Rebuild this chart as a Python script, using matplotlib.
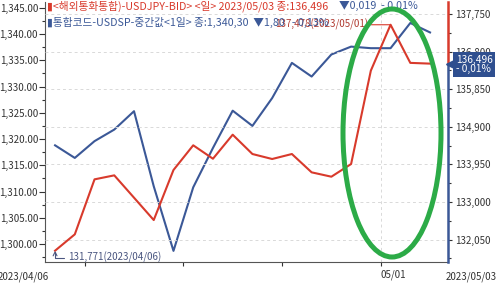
import numpy as np
import matplotlib
matplotlib.use("Agg")
import matplotlib.pyplot as plt
import matplotlib.transforms as mtransforms
from matplotlib.patches import Ellipse
from matplotlib.ticker import FuncFormatter, MultipleLocator

plt.rcParams["font.family"] = ["Noto Sans CJK KR", "DejaVu Sans"]

# trading days 2023/04/06 .. 2023/05/03
dates = ["04/06", "04/07", "04/10", "04/11", "04/12", "04/13", "04/14",
         "04/17", "04/18", "04/19", "04/20", "04/21", "04/24", "04/25",
         "04/26", "04/27", "04/28", "05/01", "05/02", "05/03"]

# 통합코드-USDSP-중간값 (left axis, won)
usdsp = [1318.8, 1316.4, 1319.6, 1321.8, 1325.3, 1311.0, 1298.7, 1310.8,
         1318.3, 1325.4, 1322.5, 1327.8, 1334.5, 1331.9, 1336.1, 1337.6,
         1337.3, 1337.3, 1342.1, 1340.3]

# USDJPY-BID (right axis)
usdjpy = [131771, 132184, 133573, 133674, 133110, 132545, 133809, 134433,
          134094, 134701, 134213, 134087, 134213, 133750, 133640, 133960,
          136318, 137478, 136515, 136496]

left_ticks = [1300, 1305, 1310, 1315, 1320, 1325, 1330, 1335, 1340, 1345]
right_ticks = [132050, 133000, 133950, 134900, 135850, 136800, 137750]

red = "#d83a2c"
blue = "#3b5897"
txt = "#333333"
grid_c = "#d9d9d9"

fig = plt.figure(figsize=(5, 2.83), dpi=100)
ax = fig.add_axes([0.09, 0.074, 0.806, 0.919])
ax2 = ax.twinx()

x = np.arange(len(dates))
ax.plot(x, usdsp, color=blue, lw=1.5, zorder=3)
ax2.plot(x, usdjpy, color=red, lw=1.5, zorder=3)

ax.set_xlim(-0.51, 19.91)
ax.set_ylim(1296.57, 1346.1)
ax2.set_ylim(131484, 138053)

# left axis
ax.set_yticks(left_ticks)
ax.yaxis.set_minor_locator(MultipleLocator(2.5))
ax.yaxis.set_major_formatter(FuncFormatter(lambda v, p: f"{v:,.2f}"))
ax.tick_params(axis="y", which="major", length=4, width=0.8, color=txt,
               labelsize=7, labelcolor=txt, pad=1)
ax.tick_params(axis="y", which="minor", length=2.5, width=0.8, color=txt)

# right axis
ax2.set_yticks(right_ticks)
ax2.yaxis.set_minor_locator(MultipleLocator(475))
ax2.yaxis.set_major_formatter(FuncFormatter(lambda v, p: f"{v:,.0f}"))
ax2.tick_params(axis="y", which="major", length=3, width=0.8, color=txt,
                labelsize=7, labelcolor=txt, pad=2)
ax2.tick_params(axis="y", which="minor", length=2, width=0.8, color=txt)
ax2.grid(axis="y", color=grid_c, ls=(0, (3, 3)), lw=0.7)
ax2.set_axisbelow(True)

# x axis: weekly ticks on slot boundaries
mondays = [i for i, d in enumerate(dates) if d in ("04/10", "04/17", "04/24", "05/01")]
ax.set_xticks([m - 0.5 for m in mondays])
ax.set_xticklabels(["", "", "", "05/01"], fontsize=7, color=txt)
for lab in ax.get_xticklabels():
    lab.set_horizontalalignment("left")
ax.tick_params(axis="x", length=3, width=0.8, color=txt, pad=2)
ax.axvline(mondays[-1] - 0.5, color=grid_c, ls=(0, (3, 3)), lw=0.7, zorder=1)
ax.text(0.01, -0.035, "2023/04/06", transform=ax.transAxes, ha="right",
        va="top", fontsize=7, color=txt)
ax.text(0.995, -0.035, "2023/05/03", transform=ax.transAxes, ha="left",
        va="top", fontsize=7, color=txt)

for s in ["top", "right"]:
    ax.spines[s].set_visible(False)
for s in ["top", "left", "bottom", "right"]:
    ax2.spines[s].set_visible(False)
ax.spines["left"].set_color("#555555")
ax.spines["bottom"].set_color("#555555")

# right edge coloured by current value
edge = mtransforms.blended_transform_factory(ax2.transAxes, ax2.transData)
ylo, yhi = ax2.get_ylim()
ax2.plot([1, 1], [usdjpy[-1], yhi], transform=edge, color=red, lw=1.8, clip_on=False)
ax2.plot([1, 1], [ylo, usdjpy[-1]], transform=edge, color=blue, lw=1.8, clip_on=False)
ax2.plot([1.006], [usdjpy[-1]], transform=edge, marker="<", ms=6, color="#2f4f8f",
         clip_on=False, zorder=7)
box_tr = mtransforms.offset_copy(edge, fig=fig, x=8, y=-1, units="dots")
ax2.text(1, usdjpy[-1], "136,496\n- 0,01%", transform=box_tr, ha="left", va="center",
         fontsize=7.3, color="white", linespacing=0.95, zorder=7,
         bbox=dict(boxstyle="square,pad=0.25", fc="#2f4f8f", ec="none"))

# high / low annotations
imax = int(np.argmax(usdjpy))
imin = int(np.argmin(usdjpy))
ax2.annotate(f"{usdjpy[imax]:,}(2023/{dates[imax]})", xy=(imax, usdjpy[imax]),
             xytext=(-22, 0), textcoords="offset pixels", ha="right", va="center",
             fontsize=7, color="#b03a30",
             arrowprops=dict(arrowstyle="-", color=red, lw=0.8, shrinkA=0, shrinkB=0))
ax2.annotate(f"{usdjpy[imin]:,}(2023/{dates[imin]})", xy=(imin, usdjpy[imin]),
             xytext=(13, -7), textcoords="offset pixels", ha="left", va="center",
             fontsize=7, color="#4a5680",
             arrowprops=dict(arrowstyle="->", color="#4a5680", lw=0.8, shrinkA=1,
                             shrinkB=0, connectionstyle="angle,angleA=0,angleB=90,rad=0"))

# legend lines at top
fig.text(47 / 500, 1 - 6 / 283, "▮<해외통화통합)-USDJPY-BID> <일> 2023/05/03 종:136,496",
         ha="left", va="center", fontsize=7.7, color=red)
fig.text(339 / 500, 1 - 6 / 283, "▼0,019  - 0,01%", ha="left", va="center",
         fontsize=7.7, color=blue)
fig.text(47 / 500, 1 - 22 / 283, "▮통합코드-USDSP-중간값<1일> 종:1,340,30  ▼1,80   - 0,13%",
         ha="left", va="center", fontsize=7.7, color=blue, zorder=0)

# green highlight ellipse
fig.patches.append(Ellipse((392 / 500, 1 - 133 / 283), 98 / 500, 248 / 283,
                           transform=fig.transFigure, fill=False, ec="#2cab47",
                           lw=3.6, zorder=10))

fig.savefig("out.png", dpi=100)
